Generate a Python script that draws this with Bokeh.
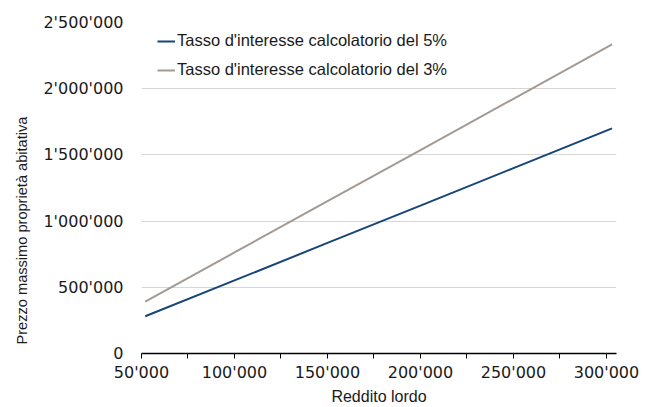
from bokeh.plotting import figure
from bokeh.models import Range1d, FixedTicker, Legend, LegendItem, Title
from bokeh.embed import file_html
from bokeh.resources import INLINE

income = [52000, 100000, 150000, 200000, 250000, 303000]
price_5 = [281000, 552000, 835000, 1117000, 1400000, 1700000]
price_3 = [392000, 763000, 1150000, 1537000, 1924000, 2334000]
series_names = ["Tasso d'interesse calcolatorio del 5%", "Tasso d'interesse calcolatorio del 3%"]
x_ticks = [50000 + 25000 * i for i in range(11)]
y_ticks = [0, 500000, 1000000, 1500000, 2000000, 2500000]
x_title = "Reddito lordo"
y_title = "Prezzo massimo proprietà abitativa"

def fmt(v):
    return f"{int(v):,}".replace(",", "'")

FONT = "Liberation Sans"
NUMFONT = "DejaVu Sans"
TXT = "#1a1a1a"

p = figure(width=645, height=407, output_backend="svg", toolbar_location=None,
           x_range=Range1d(50000, 305400), y_range=Range1d(0, 2500000),
           min_border_left=141, min_border_right=29, min_border_top=22, min_border_bottom=53)
p.outline_line_color = None
p.background_fill_color = "white"

r5 = p.line(income, price_5, line_color="#17457a", line_width=2)
r3 = p.line(income, price_3, line_color="#a39a94", line_width=2)

# axes
p.xaxis.ticker = FixedTicker(ticks=x_ticks)
p.xaxis.major_label_overrides = {t: (fmt(t) if (t // 25000) % 2 == 0 else "") for t in x_ticks}
p.xaxis.axis_line_color = "black"
p.xaxis.axis_line_width = 1.3
p.xaxis.major_tick_line_color = "black"
p.xaxis.major_tick_out = 5
p.xaxis.major_tick_in = 0
p.xaxis.minor_tick_line_color = None
p.xaxis.major_label_standoff = 4
p.xaxis.major_label_text_font = NUMFONT
p.xaxis.major_label_text_font_size = "16px"
p.xaxis.major_label_text_color = TXT
p.xaxis.axis_label = x_title
p.xaxis.axis_label_text_font = FONT
p.xaxis.axis_label_text_font_size = "16px"
p.xaxis.axis_label_text_font_style = "normal"
p.xaxis.axis_label_text_color = TXT
p.xaxis.axis_label_standoff = 3

p.yaxis.ticker = FixedTicker(ticks=y_ticks)
p.yaxis.major_label_overrides = {t: fmt(t) for t in y_ticks}
p.yaxis.axis_line_color = None
p.yaxis.major_tick_line_color = None
p.yaxis.minor_tick_line_color = None
p.yaxis.major_label_standoff = 12
p.yaxis.major_label_text_font = NUMFONT
p.yaxis.major_label_text_font_size = "16px"
p.yaxis.major_label_text_color = TXT

p.xgrid.grid_line_color = None
p.ygrid.grid_line_color = "#d6d6d6"
p.ygrid.grid_line_width = 1.2

# y-axis title placed like the original (lower than frame centre)
ytitle = Title(text=y_title, align="left", offset=9, standoff=22,
               text_font=FONT, text_font_size="14.6px", text_font_style="normal",
               text_color=TXT)
p.add_layout(ytitle, "left")

legend = Legend(items=[LegendItem(label=series_names[0], renderers=[r5]),
                       LegendItem(label=series_names[1], renderers=[r3])],
                location=(16, 274), border_line_color=None, background_fill_alpha=0,
                label_text_font=FONT, label_text_font_size="16.5px", label_text_color=TXT,
                glyph_width=18, glyph_height=16, label_height=18, label_standoff=2, spacing=10,
                padding=0, margin=0)
p.add_layout(legend)

open("out.html", "w").write(file_html(p, INLINE))
